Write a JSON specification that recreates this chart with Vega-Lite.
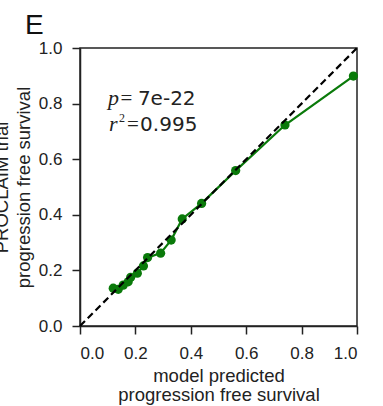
{
  "$schema": "https://vega.github.io/schema/vega-lite/v6.json",
  "autosize": {"type": "none"},
  "padding": {"left": 80, "top": 48, "right": 26, "bottom": 80},
  "width": 277,
  "height": 278,
  "config": {
    "view": {"stroke": "#222", "strokeWidth": 1.5},
    "font": "Liberation Sans",
    "axis": {
      "grid": false,
      "domainColor": "#222",
      "domainWidth": 1.5,
      "tickColor": "#222",
      "tickWidth": 1.5,
      "tickSize": 8,
      "labelPadding": 10,
      "labelFontSize": 17,
      "labelColor": "#222",
      "titleFontSize": 18.5,
      "titleFontWeight": "normal",
      "titleColor": "#222",
      "labelFont": "Liberation Sans",
      "titleFont": "Liberation Sans"
    }
  },
  "title": {"text": "E", "anchor": "start", "frame": "group", "dx": -55, "dy": 7, "offset": 6, "fontSize": 28, "fontWeight": "normal", "font": "Liberation Sans", "color": "#111"},
  "datasets": {
    "points": [
      {"predicted": 0.120, "observed": 0.136},
      {"predicted": 0.138, "observed": 0.132},
      {"predicted": 0.156, "observed": 0.147},
      {"predicted": 0.174, "observed": 0.159},
      {"predicted": 0.183, "observed": 0.175},
      {"predicted": 0.207, "observed": 0.190},
      {"predicted": 0.229, "observed": 0.216},
      {"predicted": 0.244, "observed": 0.246},
      {"predicted": 0.291, "observed": 0.262},
      {"predicted": 0.329, "observed": 0.309},
      {"predicted": 0.369, "observed": 0.385},
      {"predicted": 0.439, "observed": 0.441},
      {"predicted": 0.562, "observed": 0.559},
      {"predicted": 0.740, "observed": 0.723},
      {"predicted": 0.987, "observed": 0.899}
    ],
    "diag": [
      {"predicted": 0, "observed": 0},
      {"predicted": 1, "observed": 1}
    ],
    "italic": [
      {"predicted": 0.101, "observed": 0.795, "label": "p"},
      {"predicted": 0.105, "observed": 0.700, "label": "r"}
    ],
    "sup": [
      {"predicted": 0.141, "observed": 0.733, "label": "2"}
    ],
    "equals": [
      {"predicted": 0.146, "observed": 0.795, "label": "="},
      {"predicted": 0.170, "observed": 0.700, "label": "="}
    ],
    "plain": [
      {"predicted": 0.209, "observed": 0.795, "label": "7e-22"},
      {"predicted": 0.217, "observed": 0.700, "label": "0.995"}
    ]
  },
  "layer": [
    {
      "data": {"name": "points"},
      "mark": {"type": "line", "color": "#0a7a0a", "strokeWidth": 2.2},
      "encoding": {
        "x": {"field": "predicted", "type": "quantitative", "scale": {"domain": [0, 1]}, "axis": {"values": [0, 0.2, 0.4, 0.6, 0.8, 1.0], "format": ".1f", "title": ["model predicted", "progression free survival"], "titlePadding": 5, "labelPadding": 11, "titleLineHeight": 19.5}},
        "y": {"field": "observed", "type": "quantitative", "scale": {"domain": [0, 1]}, "axis": {"values": [0, 0.2, 0.4, 0.6, 0.8, 1.0], "format": ".1f", "title": ["PROCLAIM trial", "progression free survival"], "titlePadding": 5, "titleLineHeight": 22}}
      }
    },
    {
      "data": {"name": "points"},
      "mark": {"type": "point", "filled": true, "color": "#0a7a0a", "size": 85, "opacity": 1},
      "encoding": {
        "x": {"field": "predicted", "type": "quantitative"},
        "y": {"field": "observed", "type": "quantitative"}
      }
    },
    {
      "data": {"name": "diag"},
      "mark": {"type": "line", "color": "#000", "strokeWidth": 2.2, "strokeDash": [7, 4]},
      "encoding": {
        "x": {"field": "predicted", "type": "quantitative"},
        "y": {"field": "observed", "type": "quantitative"}
      }
    },
    {
      "data": {"name": "italic"},
      "mark": {"type": "text", "align": "left", "baseline": "alphabetic", "font": "Liberation Serif", "fontStyle": "italic", "fontSize": 22, "color": "#222"},
      "encoding": {
        "x": {"field": "predicted", "type": "quantitative"},
        "y": {"field": "observed", "type": "quantitative"},
        "text": {"field": "label"}
      }
    },
    {
      "data": {"name": "sup"},
      "mark": {"type": "text", "align": "left", "baseline": "alphabetic", "font": "Liberation Serif", "fontSize": 12, "color": "#222"},
      "encoding": {
        "x": {"field": "predicted", "type": "quantitative"},
        "y": {"field": "observed", "type": "quantitative"},
        "text": {"field": "label"}
      }
    },
    {
      "data": {"name": "equals"},
      "mark": {"type": "text", "align": "left", "baseline": "alphabetic", "font": "Liberation Serif", "fontSize": 21, "color": "#222"},
      "encoding": {
        "x": {"field": "predicted", "type": "quantitative"},
        "y": {"field": "observed", "type": "quantitative"},
        "text": {"field": "label"}
      }
    },
    {
      "data": {"name": "plain"},
      "mark": {"type": "text", "align": "left", "baseline": "alphabetic", "font": "DejaVu Sans", "fontSize": 20, "color": "#222"},
      "encoding": {
        "x": {"field": "predicted", "type": "quantitative"},
        "y": {"field": "observed", "type": "quantitative"},
        "text": {"field": "label"}
      }
    }
  ]
}
